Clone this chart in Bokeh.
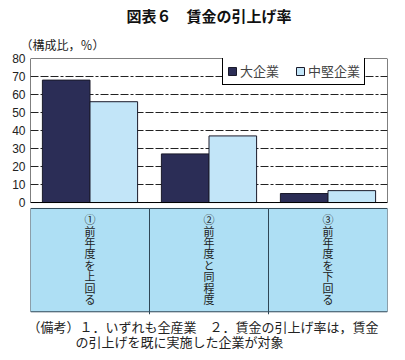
import numpy as np
from bokeh.plotting import figure
from bokeh.models import (FactorRange, Range1d, ColumnDataSource, Legend, LegendItem,
                          Title, FixedTicker, BoxAnnotation)
from bokeh.transform import dodge
from bokeh.embed import file_html
from bokeh.resources import INLINE
from bokeh.core.properties import value

# ---- data ----
title_text = "図表６　賃金の引上げ率"
unit_text = "（構成比，％）"
categories = ["①前年度を上回る", "②前年度と同程度", "③前年度を下回る"]
series_names = ["大企業", "中堅企業"]
large_firms = [68, 27, 5]
midsize_firms = [56, 37, 6.6]
y_ticks = [0, 10, 20, 30, 40, 50, 60, 70, 80]
notes = ["（備考）１．いずれも全産業　２．賃金の引上げ率は，賃金",
         "の引上げを既に実施した企業が対象"]

# ---- styles / layout ----
DARK = "#2b2d56"
LIGHT = "#c2e5f8"
TABLE = "#aedff4"
EDGE = "#2e4656"
JP = "Noto Sans CJK JP"
W = 397
TOP_PX, ZERO_PX, BOTTOM_PX = 56, 201, 352   # frame top (=80), zero line, frame bottom
Y_MAX = 80
UNIT = (ZERO_PX - TOP_PX) / Y_MAX            # pixels per data unit


def yv(py):
    """convert a page pixel row into a data value on the y scale"""
    return (ZERO_PX - py) / UNIT


xr = FactorRange(factors=categories)

p = figure(width=W, height=BOTTOM_PX + 4, x_range=xr,
           y_range=Range1d(yv(BOTTOM_PX), Y_MAX),
           output_backend="svg", toolbar_location=None,
           x_axis_location=None,
           min_border_left=30, min_border_right=10, min_border_top=TOP_PX,
           min_border_bottom=4)
p.outline_line_color = None
p.xgrid.visible = False
p.ygrid.grid_line_color = "#222222"
p.ygrid.grid_line_dash = "8 2 8 2 8 2 3 2"
p.ygrid.grid_line_width = 1
p.yaxis.ticker = FixedTicker(ticks=y_ticks)
p.yaxis.major_tick_in = 0
p.yaxis.major_tick_out = 0
p.yaxis.minor_tick_in = 0
p.yaxis.minor_tick_out = 0
p.yaxis.axis_line_color = None
p.yaxis.major_label_standoff = 5
p.yaxis.major_label_text_font = "Liberation Sans"
p.yaxis.major_label_text_font_size = "12px"
p.yaxis.major_label_text_color = "#222222"

# chart box
p.add_layout(BoxAnnotation(top=Y_MAX, bottom=0, fill_alpha=0, line_color="black",
                           line_width=1, line_alpha=1))

src = ColumnDataSource(dict(cat=categories, large=large_firms, mid=midsize_firms))
r1 = p.vbar(x=dodge("cat", -0.2, range=xr), top="large", width=0.4, source=src,
            fill_color=DARK, line_color="#1a1a2a", line_width=1)
r2 = p.vbar(x=dodge("cat", 0.2, range=xr), top="mid", width=0.4, source=src,
            fill_color=LIGHT, line_color="#1a1a2a", line_width=1)

# ---- table of category labels ----
TBL_TOP, TBL_BOT = 207, 311
tsrc = ColumnDataSource(dict(cat=categories))
p.quad(left=dodge("cat", -0.5, range=xr), right=dodge("cat", 0.5, range=xr),
       top=yv(TBL_TOP), bottom=yv(TBL_BOT), source=tsrc,
       fill_color=TABLE, line_color=EDGE, line_width=1)
p.segment(x0=dodge("cat", 0.5, range=xr), x1=dodge("cat", 0.5, range=xr),
          y0=yv(TBL_BOT), y1=yv(TBL_BOT + 2.5),
          source=ColumnDataSource(dict(cat=categories[:-1])),
          line_color=EDGE, line_width=1)

cx, cy, ct = [], [], []
for c in categories:
    chars = list(c)
    ys = np.linspace(yv(218), yv(298), len(chars))
    for ch, yy in zip(chars, ys):
        cx.append(c)
        cy.append(float(yy))
        ct.append(ch)
p.text(x="x", y="y", text="t", source=ColumnDataSource(dict(x=cx, y=cy, t=ct)),
       text_font=value(JP), text_font_size="11px", text_align="center",
       text_baseline="middle", text_color="#222222")

# ---- footnote ----
nsrc = ColumnDataSource(dict(cat=[categories[0], categories[0]], y=[yv(326), yv(341)],
                             t=notes, xo=[-3, 45]))
p.text(x=dodge("cat", -0.5, range=xr), y="y", text="t", x_offset="xo", source=nsrc,
       text_font=value(JP), text_font_size="13px", text_align="left",
       text_baseline="middle", text_color="#222222")

# ---- legend ----
legend = Legend(items=[LegendItem(label=series_names[0], renderers=[r1]),
                       LegendItem(label=series_names[1], renderers=[r2])],
                orientation="horizontal",
                location=(192, (BOTTOM_PX - TOP_PX) - 5 - 24), margin=0,
                padding=4, spacing=16, glyph_width=10, glyph_height=10,
                label_standoff=3, label_height=12,
                label_text_font=JP, label_text_font_size="13px",
                border_line_color="black", border_line_width=1, border_line_alpha=1,
                background_fill_alpha=1)
p.add_layout(legend)

# ---- titles ----
p.add_layout(Title(text=unit_text, align="left", offset=-10, standoff=11,
                   text_font=JP, text_font_size="12px", text_font_style="normal",
                   text_color="#222222"), "above")
p.add_layout(Title(text=title_text, align="center", standoff=5,
                   text_font=JP, text_font_size="15px", text_font_style="bold",
                   text_color="#111111"), "above")

open("out.html", "w").write(file_html(p, INLINE))
